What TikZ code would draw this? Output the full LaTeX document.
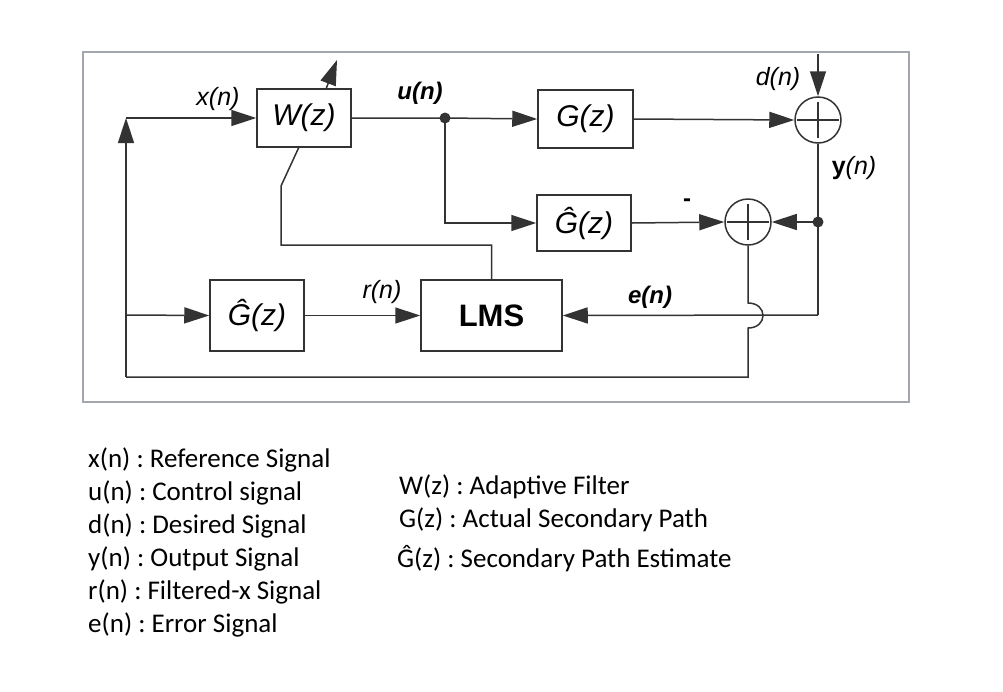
\documentclass[tikz,border=0pt]{standalone}
\usepackage{fontspec}
\setmainfont{Liberation Sans}
\newfontfamily\legfont{Carlito}
\usetikzlibrary{arrows.meta}
\definecolor{lc}{HTML}{333333}
\definecolor{fc}{HTML}{A3A7AD}
\frenchspacing
\tikzset{
  wire/.style={draw=lc, line width=1.5pt},
  ar/.style={wire, -{Triangle[length=25pt,width=16pt]}},
  blk/.style={draw=lc, line width=1.5pt, inner sep=0pt, font=\fontsize{30}{33}\selectfont\itshape},
  sumc/.style={draw=lc, line width=1.5pt, circle, minimum size=46pt, inner sep=0pt},
  lab/.style={inner sep=0pt, font=\fontsize{25}{28}\selectfont\itshape},
  leg/.style={inner sep=0pt, anchor=base west, font=\legfont\fontsize{27}{30}\selectfont}
}
\begin{document}
\begin{tikzpicture}[x=1pt,y=-1pt]
\useasboundingbox (0,0) rectangle (1003,691);
\draw[draw=fc, line width=1.4pt] (83,52) rectangle (909,402);

% blocks
\node[blk, minimum width=94pt, minimum height=58pt] (W) at (304,118) {W(z)};
\node[blk, minimum width=95pt, minimum height=58pt] (G) at (585.5,119) {G(z)};
\node[blk, minimum width=94pt, minimum height=56pt] (Gh1) at (584,223) {Ĝ(z)};
\node[blk, minimum width=94pt, minimum height=71pt] (Gh2) at (257,315.5) {Ĝ(z)};
\node[blk, minimum width=141pt, minimum height=71pt, font=\fontsize{31}{34}\selectfont\bfseries] (LMS) at (491.5,315.5) {LMS};

% summing junctions
\node[sumc] (S1) at (818,120) {};
\node[sumc] (S2) at (748,222) {};
\foreach \s in {S1,S2}{
  \draw[wire, line width=1.2pt] ([xshift=-21pt]\s.center) -- ([xshift=21pt]\s.center);
  \draw[wire, line width=1.2pt] ([yshift=-18pt]\s.center) -- ([yshift=18pt]\s.center);
}

% coordinates
\coordinate (in1) at (126,118);
\coordinate (bl) at (126,377);
\coordinate (mid) at (126,315);
\coordinate (u) at (445,118);
\coordinate (dtop) at (818,54);
\coordinate (yd) at (818,222);
\coordinate (er) at (818,315);
\coordinate (h1) at (748,303);
\coordinate (h2) at (748,328);
\coordinate (bot) at (748,377);
\coordinate (wa) at (326,89);
\coordinate (wb) at (337,60);
\coordinate (l1) at (491.5,245);
\coordinate (l2) at (281,245);
\coordinate (l3) at (281,186);
\coordinate (l4) at (299,147);

% connectors
\draw[ar] (bl) -- (in1);
\draw[ar] (in1) -- (W.west);
\draw[ar] (wa) -- (wb);
\draw[ar] (W.east) -- (u) -- (G.west);
\fill[lc] (u) circle (5.5pt);
\draw[ar] (u) |- (Gh1.west);
\draw[ar] (G.east) -- (S1.west);
\draw[ar] (dtop) -- (S1.north);
\draw[wire] (S1.south) -- (yd) -- (er);
\fill[lc] (yd) circle (5.5pt);
\draw[ar] (yd) -- (S2.east);
\draw[ar] (Gh1.east) -- (S2.west);
\draw[ar] (er) -- (LMS.east);
\draw[wire] (S2.south) -- (h1) .. controls (768,303) and (768,328) .. (h2) -- (bot) -- (bl);
\draw[ar] (mid) -- (Gh2.west);
\draw[ar] (Gh2.east) -- (LMS.west);
\draw[wire] (LMS.north) -- (l1) -- (l2) -- (l3) -- (l4);

% labels
\node[lab] (lx) at (218,99) {x(n)};
\node[lab, font=\fontsize{24}{26}\selectfont\bfseries\itshape] (lu) at (420,93) {u(n)};
\node[lab] (ld) at (778,79) {d(n)};
\node[lab] (ly) at (854,168) {{\upshape\bfseries y}(n)};
\node[lab, font=\fontsize{24}{26}\selectfont\bfseries] (lm) at (687,203) {-};
\node[lab, font=\fontsize{24}{26}\selectfont\bfseries\itshape] (le) at (650,297) {e(n)};
\node[lab] (lr) at (382,292) {r(n)};

% legend
\node[leg] (t1) at (88,467) {x(n) : Reference Signal};
\node[leg] (t2) at (88,500) {u(n) : Control signal};
\node[leg] (t3) at (88,533) {d(n) : Desired Signal};
\node[leg] (t4) at (88,566) {y(n) : Output Signal};
\node[leg] (t5) at (88,599) {r(n) : Filtered-x Signal};
\node[leg] (t6) at (88,632) {e(n) : Error Signal};
\node[leg] (t7) at (399,494) {W(z) : Adaptive Filter};
\node[leg] (t8) at (399,527) {G(z) : Actual Secondary Path};
\node[leg] (t9) at (397,567) {Ĝ(z) : Secondary Path Estimate};
\end{tikzpicture}
\end{document}
